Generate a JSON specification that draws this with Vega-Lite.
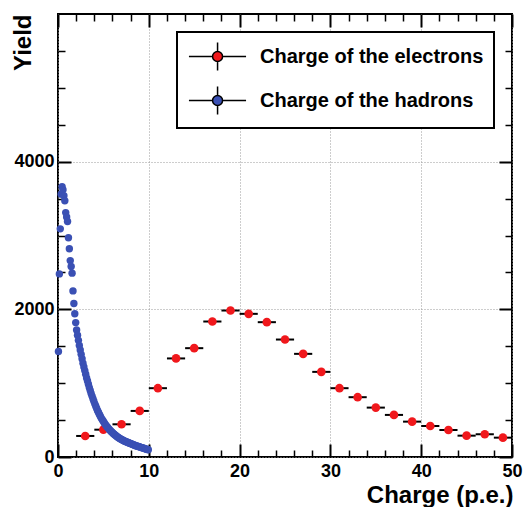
{
  "$schema": "https://vega.github.io/schema/vega-lite/v6.json",
  "width": 454,
  "height": 443,
  "autosize": {"type": "none"},
  "padding": {"left": 58, "top": 14, "right": 12, "bottom": 50},
  "background": "white",
  "config": {
    "font": "Liberation Sans",
    "view": {"stroke": "black", "strokeWidth": 2},
    "axis": {"domain": false, "tickColor": "black", "labelFlush": false, "labelOverlap": false}
  },
  "datasets": {
    "electrons": [
      {"q": 3, "lo": 2, "hi": 4, "n": 285, "series": "Charge of the electrons"},
      {"q": 5, "lo": 4, "hi": 6, "n": 370, "series": "Charge of the electrons"},
      {"q": 7, "lo": 6, "hi": 8, "n": 443, "series": "Charge of the electrons"},
      {"q": 9, "lo": 8, "hi": 10, "n": 624, "series": "Charge of the electrons"},
      {"q": 11, "lo": 10, "hi": 12, "n": 932, "series": "Charge of the electrons"},
      {"q": 13, "lo": 12, "hi": 14, "n": 1335, "series": "Charge of the electrons"},
      {"q": 15, "lo": 14, "hi": 16, "n": 1474, "series": "Charge of the electrons"},
      {"q": 17, "lo": 16, "hi": 18, "n": 1835, "series": "Charge of the electrons"},
      {"q": 19, "lo": 18, "hi": 20, "n": 1984, "series": "Charge of the electrons"},
      {"q": 21, "lo": 20, "hi": 22, "n": 1939, "series": "Charge of the electrons"},
      {"q": 23, "lo": 22, "hi": 24, "n": 1826, "series": "Charge of the electrons"},
      {"q": 25, "lo": 24, "hi": 26, "n": 1591, "series": "Charge of the electrons"},
      {"q": 27, "lo": 26, "hi": 28, "n": 1397, "series": "Charge of the electrons"},
      {"q": 29, "lo": 28, "hi": 30, "n": 1153, "series": "Charge of the electrons"},
      {"q": 31, "lo": 30, "hi": 32, "n": 932, "series": "Charge of the electrons"},
      {"q": 33, "lo": 32, "hi": 34, "n": 810, "series": "Charge of the electrons"},
      {"q": 35, "lo": 34, "hi": 36, "n": 669, "series": "Charge of the electrons"},
      {"q": 37, "lo": 36, "hi": 38, "n": 570, "series": "Charge of the electrons"},
      {"q": 39, "lo": 38, "hi": 40, "n": 479, "series": "Charge of the electrons"},
      {"q": 41, "lo": 40, "hi": 42, "n": 420, "series": "Charge of the electrons"},
      {"q": 43, "lo": 42, "hi": 44, "n": 366, "series": "Charge of the electrons"},
      {"q": 45, "lo": 44, "hi": 46, "n": 289, "series": "Charge of the electrons"},
      {"q": 47, "lo": 46, "hi": 48, "n": 308, "series": "Charge of the electrons"},
      {"q": 49, "lo": 48, "hi": 50, "n": 262, "series": "Charge of the electrons"}
    ],
    "hadrons": [
      {"q": 0.05, "lo": 0.0, "hi": 0.1, "n": 1430, "series": "Charge of the hadrons"},
      {"q": 0.15, "lo": 0.1, "hi": 0.2, "n": 2480, "series": "Charge of the hadrons"},
      {"q": 0.25, "lo": 0.2, "hi": 0.3, "n": 3090, "series": "Charge of the hadrons"},
      {"q": 0.35, "lo": 0.3, "hi": 0.4, "n": 3560, "series": "Charge of the hadrons"},
      {"q": 0.45, "lo": 0.4, "hi": 0.5, "n": 3660, "series": "Charge of the hadrons"},
      {"q": 0.55, "lo": 0.5, "hi": 0.6, "n": 3620, "series": "Charge of the hadrons"},
      {"q": 0.65, "lo": 0.6, "hi": 0.7, "n": 3540, "series": "Charge of the hadrons"},
      {"q": 0.75, "lo": 0.7, "hi": 0.8, "n": 3470, "series": "Charge of the hadrons"},
      {"q": 0.85, "lo": 0.8, "hi": 0.9, "n": 3310, "series": "Charge of the hadrons"},
      {"q": 0.95, "lo": 0.9, "hi": 1.0, "n": 3250, "series": "Charge of the hadrons"},
      {"q": 1.05, "lo": 1.0, "hi": 1.1, "n": 3190, "series": "Charge of the hadrons"},
      {"q": 1.15, "lo": 1.1, "hi": 1.2, "n": 2970, "series": "Charge of the hadrons"},
      {"q": 1.25, "lo": 1.2, "hi": 1.3, "n": 2820, "series": "Charge of the hadrons"},
      {"q": 1.35, "lo": 1.3, "hi": 1.4, "n": 2660, "series": "Charge of the hadrons"},
      {"q": 1.45, "lo": 1.4, "hi": 1.5, "n": 2580, "series": "Charge of the hadrons"},
      {"q": 1.55, "lo": 1.5, "hi": 1.6, "n": 2490, "series": "Charge of the hadrons"},
      {"q": 1.65, "lo": 1.6, "hi": 1.7, "n": 2250, "series": "Charge of the hadrons"},
      {"q": 1.75, "lo": 1.7, "hi": 1.8, "n": 2080, "series": "Charge of the hadrons"},
      {"q": 1.85, "lo": 1.8, "hi": 1.9, "n": 1940, "series": "Charge of the hadrons"},
      {"q": 1.95, "lo": 1.9, "hi": 2.0, "n": 1820, "series": "Charge of the hadrons"},
      {"q": 2.05, "lo": 2.0, "hi": 2.1, "n": 1720, "series": "Charge of the hadrons"},
      {"q": 2.15, "lo": 2.1, "hi": 2.2, "n": 1650, "series": "Charge of the hadrons"},
      {"q": 2.25, "lo": 2.2, "hi": 2.3, "n": 1580, "series": "Charge of the hadrons"},
      {"q": 2.35, "lo": 2.3, "hi": 2.4, "n": 1510, "series": "Charge of the hadrons"},
      {"q": 2.45, "lo": 2.4, "hi": 2.5, "n": 1450, "series": "Charge of the hadrons"},
      {"q": 2.55, "lo": 2.5, "hi": 2.6, "n": 1390, "series": "Charge of the hadrons"},
      {"q": 2.65, "lo": 2.6, "hi": 2.7, "n": 1330, "series": "Charge of the hadrons"},
      {"q": 2.75, "lo": 2.7, "hi": 2.8, "n": 1270, "series": "Charge of the hadrons"},
      {"q": 2.85, "lo": 2.8, "hi": 2.9, "n": 1220, "series": "Charge of the hadrons"},
      {"q": 2.95, "lo": 2.9, "hi": 3.0, "n": 1170, "series": "Charge of the hadrons"},
      {"q": 3.05, "lo": 3.0, "hi": 3.1, "n": 1120, "series": "Charge of the hadrons"},
      {"q": 3.15, "lo": 3.1, "hi": 3.2, "n": 1070, "series": "Charge of the hadrons"},
      {"q": 3.25, "lo": 3.2, "hi": 3.3, "n": 1030, "series": "Charge of the hadrons"},
      {"q": 3.35, "lo": 3.3, "hi": 3.4, "n": 985, "series": "Charge of the hadrons"},
      {"q": 3.45, "lo": 3.4, "hi": 3.5, "n": 940, "series": "Charge of the hadrons"},
      {"q": 3.55, "lo": 3.5, "hi": 3.6, "n": 900, "series": "Charge of the hadrons"},
      {"q": 3.65, "lo": 3.6, "hi": 3.7, "n": 860, "series": "Charge of the hadrons"},
      {"q": 3.75, "lo": 3.7, "hi": 3.8, "n": 825, "series": "Charge of the hadrons"},
      {"q": 3.85, "lo": 3.8, "hi": 3.9, "n": 790, "series": "Charge of the hadrons"},
      {"q": 3.95, "lo": 3.9, "hi": 4.0, "n": 755, "series": "Charge of the hadrons"},
      {"q": 4.05, "lo": 4.0, "hi": 4.1, "n": 720, "series": "Charge of the hadrons"},
      {"q": 4.15, "lo": 4.1, "hi": 4.2, "n": 690, "series": "Charge of the hadrons"},
      {"q": 4.25, "lo": 4.2, "hi": 4.3, "n": 660, "series": "Charge of the hadrons"},
      {"q": 4.35, "lo": 4.3, "hi": 4.4, "n": 630, "series": "Charge of the hadrons"},
      {"q": 4.45, "lo": 4.4, "hi": 4.5, "n": 605, "series": "Charge of the hadrons"},
      {"q": 4.55, "lo": 4.5, "hi": 4.6, "n": 580, "series": "Charge of the hadrons"},
      {"q": 4.65, "lo": 4.6, "hi": 4.7, "n": 555, "series": "Charge of the hadrons"},
      {"q": 4.75, "lo": 4.7, "hi": 4.8, "n": 530, "series": "Charge of the hadrons"},
      {"q": 4.85, "lo": 4.8, "hi": 4.9, "n": 510, "series": "Charge of the hadrons"},
      {"q": 4.95, "lo": 4.9, "hi": 5.0, "n": 490, "series": "Charge of the hadrons"},
      {"q": 5.05, "lo": 5.0, "hi": 5.1, "n": 470, "series": "Charge of the hadrons"},
      {"q": 5.15, "lo": 5.1, "hi": 5.2, "n": 452, "series": "Charge of the hadrons"},
      {"q": 5.25, "lo": 5.2, "hi": 5.3, "n": 435, "series": "Charge of the hadrons"},
      {"q": 5.35, "lo": 5.3, "hi": 5.4, "n": 418, "series": "Charge of the hadrons"},
      {"q": 5.45, "lo": 5.4, "hi": 5.5, "n": 402, "series": "Charge of the hadrons"},
      {"q": 5.55, "lo": 5.5, "hi": 5.6, "n": 388, "series": "Charge of the hadrons"},
      {"q": 5.65, "lo": 5.6, "hi": 5.7, "n": 374, "series": "Charge of the hadrons"},
      {"q": 5.75, "lo": 5.7, "hi": 5.8, "n": 360, "series": "Charge of the hadrons"},
      {"q": 5.85, "lo": 5.8, "hi": 5.9, "n": 347, "series": "Charge of the hadrons"},
      {"q": 5.95, "lo": 5.9, "hi": 6.0, "n": 335, "series": "Charge of the hadrons"},
      {"q": 6.05, "lo": 6.0, "hi": 6.1, "n": 323, "series": "Charge of the hadrons"},
      {"q": 6.15, "lo": 6.1, "hi": 6.2, "n": 312, "series": "Charge of the hadrons"},
      {"q": 6.25, "lo": 6.2, "hi": 6.3, "n": 301, "series": "Charge of the hadrons"},
      {"q": 6.35, "lo": 6.3, "hi": 6.4, "n": 291, "series": "Charge of the hadrons"},
      {"q": 6.45, "lo": 6.4, "hi": 6.5, "n": 281, "series": "Charge of the hadrons"},
      {"q": 6.55, "lo": 6.5, "hi": 6.6, "n": 272, "series": "Charge of the hadrons"},
      {"q": 6.65, "lo": 6.6, "hi": 6.7, "n": 263, "series": "Charge of the hadrons"},
      {"q": 6.75, "lo": 6.7, "hi": 6.8, "n": 255, "series": "Charge of the hadrons"},
      {"q": 6.85, "lo": 6.8, "hi": 6.9, "n": 247, "series": "Charge of the hadrons"},
      {"q": 6.95, "lo": 6.9, "hi": 7.0, "n": 240, "series": "Charge of the hadrons"},
      {"q": 7.05, "lo": 7.0, "hi": 7.1, "n": 233, "series": "Charge of the hadrons"},
      {"q": 7.15, "lo": 7.1, "hi": 7.2, "n": 227, "series": "Charge of the hadrons"},
      {"q": 7.25, "lo": 7.2, "hi": 7.3, "n": 221, "series": "Charge of the hadrons"},
      {"q": 7.35, "lo": 7.3, "hi": 7.4, "n": 215, "series": "Charge of the hadrons"},
      {"q": 7.45, "lo": 7.4, "hi": 7.5, "n": 209, "series": "Charge of the hadrons"},
      {"q": 7.55, "lo": 7.5, "hi": 7.6, "n": 204, "series": "Charge of the hadrons"},
      {"q": 7.65, "lo": 7.6, "hi": 7.7, "n": 199, "series": "Charge of the hadrons"},
      {"q": 7.75, "lo": 7.7, "hi": 7.8, "n": 194, "series": "Charge of the hadrons"},
      {"q": 7.85, "lo": 7.8, "hi": 7.9, "n": 189, "series": "Charge of the hadrons"},
      {"q": 7.95, "lo": 7.9, "hi": 8.0, "n": 184, "series": "Charge of the hadrons"},
      {"q": 8.05, "lo": 8.0, "hi": 8.1, "n": 179, "series": "Charge of the hadrons"},
      {"q": 8.15, "lo": 8.1, "hi": 8.2, "n": 174, "series": "Charge of the hadrons"},
      {"q": 8.25, "lo": 8.2, "hi": 8.3, "n": 169, "series": "Charge of the hadrons"},
      {"q": 8.35, "lo": 8.3, "hi": 8.4, "n": 164, "series": "Charge of the hadrons"},
      {"q": 8.45, "lo": 8.4, "hi": 8.5, "n": 159, "series": "Charge of the hadrons"},
      {"q": 8.55, "lo": 8.5, "hi": 8.6, "n": 154, "series": "Charge of the hadrons"},
      {"q": 8.65, "lo": 8.6, "hi": 8.7, "n": 150, "series": "Charge of the hadrons"},
      {"q": 8.75, "lo": 8.7, "hi": 8.8, "n": 146, "series": "Charge of the hadrons"},
      {"q": 8.85, "lo": 8.8, "hi": 8.9, "n": 142, "series": "Charge of the hadrons"},
      {"q": 8.95, "lo": 8.9, "hi": 9.0, "n": 138, "series": "Charge of the hadrons"},
      {"q": 9.05, "lo": 9.0, "hi": 9.1, "n": 134, "series": "Charge of the hadrons"},
      {"q": 9.15, "lo": 9.1, "hi": 9.2, "n": 130, "series": "Charge of the hadrons"},
      {"q": 9.25, "lo": 9.2, "hi": 9.3, "n": 126, "series": "Charge of the hadrons"},
      {"q": 9.35, "lo": 9.3, "hi": 9.4, "n": 122, "series": "Charge of the hadrons"},
      {"q": 9.45, "lo": 9.4, "hi": 9.5, "n": 118, "series": "Charge of the hadrons"},
      {"q": 9.55, "lo": 9.5, "hi": 9.6, "n": 114, "series": "Charge of the hadrons"},
      {"q": 9.65, "lo": 9.6, "hi": 9.7, "n": 110, "series": "Charge of the hadrons"},
      {"q": 9.75, "lo": 9.7, "hi": 9.8, "n": 106, "series": "Charge of the hadrons"},
      {"q": 9.85, "lo": 9.8, "hi": 9.9, "n": 102, "series": "Charge of the hadrons"},
      {"q": 9.95, "lo": 9.9, "hi": 10.0, "n": 98, "series": "Charge of the hadrons"}
    ]
  },
  "resolve": {"axis": {"x": "independent", "y": "independent"}},
  "layer": [
    {
      "data": {"name": "electrons"},
      "mark": {"type": "rule", "color": "black", "strokeWidth": 2},
      "encoding": {
        "x": {"field": "lo", "type": "quantitative",
          "scale": {"domain": [0, 50], "nice": false, "zero": false},
          "axis": {"orient": "bottom", "title": null, "labels": false, "grid": false,
            "values": [2, 4, 6, 8, 12, 14, 16, 18, 22, 24, 26, 28, 32, 34, 36, 38, 42, 44, 46, 48],
            "tickSize": -7, "tickWidth": 1.5}},
        "x2": {"field": "hi"},
        "y": {"field": "n", "type": "quantitative",
          "scale": {"domain": [0, 6000], "nice": false},
          "axis": {"orient": "left", "title": null, "labels": false, "grid": false,
            "values": [500, 1000, 1500, 2500, 3000, 3500, 4500, 5000, 5500],
            "tickSize": -7, "tickWidth": 1.5}}
      }
    },
    {
      "data": {"name": "electrons"},
      "mark": {"type": "point", "filled": true, "opacity": 1, "size": 75},
      "encoding": {
        "x": {"field": "q", "type": "quantitative",
          "scale": {"domain": [0, 50], "nice": false, "zero": false},
          "axis": {"orient": "bottom", "values": [0, 10, 20, 30, 40, 50],
            "tickSize": -13, "tickWidth": 2,
            "grid": true, "gridColor": "#9a9a9a", "gridDash": [1, 2], "gridWidth": 1,
            "labelFont": "Liberation Sans", "labelFontWeight": "bold", "labelFontSize": 18,
            "labelColor": "black", "labelPadding": 18,
            "title": "Charge (p.e.)", "titleFont": "Liberation Sans", "titleFontWeight": "bold",
            "titleFontSize": 24, "titleColor": "black", "titleAlign": "right",
            "titleBaseline": "middle", "titleX": 455, "titleY": 38}},
        "y": {"field": "n", "type": "quantitative",
          "scale": {"domain": [0, 6000], "nice": false},
          "axis": {"orient": "left", "values": [0, 2000, 4000], "format": "d",
            "tickSize": -13, "tickWidth": 2,
            "grid": true, "gridColor": "#9a9a9a", "gridDash": [1, 2], "gridWidth": 1,
            "labelFont": "Liberation Sans", "labelFontWeight": "bold", "labelFontSize": 18,
            "labelColor": "black", "labelPadding": 17,
            "title": "Yield", "titleFont": "Liberation Sans", "titleFontWeight": "bold",
            "titleFontSize": 24, "titleColor": "black", "titleAngle": 270,
            "titleAlign": "right", "titleBaseline": "middle", "titleX": -35, "titleY": 0}},
        "color": {"field": "series", "type": "nominal",
          "scale": {"domain": ["Charge of the electrons", "Charge of the hadrons"],
                    "range": ["#f0181c", "#3a50b4"]},
          "legend": {
            "title": null, "orient": "top-right", "offset": 18,
            "padding": 10, "rowPadding": 9,
            "strokeColor": "black", "fillColor": "white",
            "symbolType": "M-0.93,0H0.82M1.56,0H3.3M1.19,-1.04V-0.37M1.19,0.37V1.04M1.56,0A0.37,0.37 0 1,1 0.82,0A0.37,0.37 0 1,1 1.56,0Z",
            "symbolSize": 729, "symbolOpacity": 1,
            "labelFont": "Liberation Sans", "labelFontWeight": "bold", "labelFontSize": 20,
            "labelColor": "black", "labelOffset": 44, "labelLimit": 400,
            "encode": {
              "legend": {"update": {"strokeWidth": {"value": 2}}},
              "symbols": {"update": {"stroke": {"value": "black"}, "strokeWidth": {"value": 1.5}}}
            }
          }}
      }
    },
    {
      "data": {"name": "hadrons"},
      "mark": {"type": "rule", "color": "black", "strokeWidth": 1},
      "encoding": {
        "x": {"field": "lo", "type": "quantitative",
          "scale": {"domain": [0, 50], "nice": false, "zero": false},
          "axis": {"orient": "top", "title": null, "labels": false, "grid": false,
            "values": [2, 4, 6, 8, 12, 14, 16, 18, 22, 24, 26, 28, 32, 34, 36, 38, 42, 44, 46, 48],
            "tickSize": -7, "tickWidth": 1.5}},
        "x2": {"field": "hi"},
        "y": {"field": "n", "type": "quantitative",
          "scale": {"domain": [0, 6000], "nice": false},
          "axis": {"orient": "right", "title": null, "labels": false, "grid": false,
            "values": [500, 1000, 1500, 2500, 3000, 3500, 4500, 5000, 5500],
            "tickSize": -7, "tickWidth": 1.5}}
      }
    },
    {
      "data": {"name": "hadrons"},
      "mark": {"type": "point", "filled": true, "opacity": 1, "size": 55},
      "encoding": {
        "x": {"field": "q", "type": "quantitative",
          "scale": {"domain": [0, 50], "nice": false, "zero": false},
          "axis": {"orient": "top", "title": null, "labels": false, "grid": false,
            "values": [0, 10, 20, 30, 40, 50], "tickSize": -13, "tickWidth": 2}},
        "y": {"field": "n", "type": "quantitative",
          "scale": {"domain": [0, 6000], "nice": false},
          "axis": {"orient": "right", "title": null, "labels": false, "grid": false,
            "values": [0, 2000, 4000], "tickSize": -13, "tickWidth": 2}},
        "color": {"field": "series", "type": "nominal"}
      }
    }
  ]
}
